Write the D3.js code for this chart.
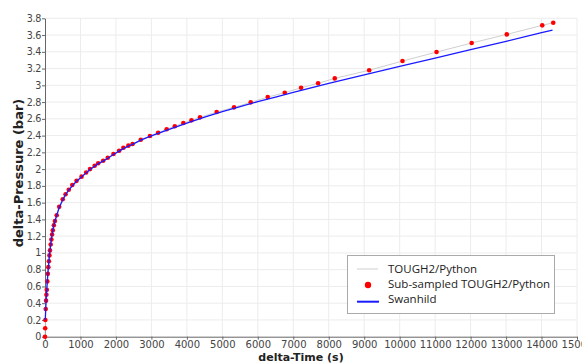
<!DOCTYPE html>
<html><head><meta charset="utf-8">
<script src="https://cdn.jsdelivr.net/npm/d3@7"></script>
<style>body{margin:0;background:#fff}svg{display:block}</style>
</head><body><svg id="c" width="582" height="363"></svg>
<script>
const xTicks = [0,1000,2000,3000,4000,5000,6000,7000,8000,9000,10000,11000,12000,13000,14000,15000];
const yTicks = [0,0.2,0.4,0.6,0.8,1,1.2,1.4,1.6,1.8,2,2.2,2.4,2.6,2.8,3,3.2,3.4,3.6,3.8];
const seriesNames = ["TOUGH2/Python","Sub-sampled TOUGH2/Python","Swanhild"];

const sampledT = [0,5,10,20,30,40,50,65,80,95,110,125,140,160,180,200,220,250,280,330,400,500,580,670,770,890,1030,1160,1270,1400,1500,1640,1770,1930,2090,2210,2350,2470,2700,2960,3190,3430,3660,3900,4130,4370,4840,5330,5800,6280,6760,7220,7700,8170,9140,10080,11040,12030,13020,14020,14330];
const sampledP = [0,0.1,0.2,0.33,0.43,0.5,0.56,0.66,0.75,0.83,0.9,0.97,1.03,1.1,1.16,1.22,1.27,1.33,1.38,1.45,1.55,1.64,1.70,1.754,1.81,1.86,1.91,1.96,2.0,2.04,2.07,2.10,2.136,2.18,2.22,2.255,2.28,2.30,2.35,2.395,2.434,2.475,2.511,2.55,2.582,2.618,2.681,2.737,2.797,2.86,2.912,2.971,3.024,3.083,3.18,3.29,3.397,3.505,3.608,3.716,3.747];

const toughT = sampledT;
const toughP = sampledP;

const swanT = [0,10,20,30,50,65,80,95,110,125,140,160,180,200,220,250,280,330,400,500,580,670,770,890,1030,1160,1270,1400,1500,1640,1770,1930,2090,2210,2350,2470,2700,2960,3500,4000,4500,5000,5500,6000,6500,7000,7500,8000,8500,9000,10000,11000,12000,13000,14000,14310];
const swanP = [0.2,0.22,0.33,0.43,0.56,0.66,0.75,0.83,0.9,0.97,1.03,1.1,1.16,1.22,1.27,1.33,1.38,1.45,1.54,1.635,1.695,1.75,1.80,1.855,1.905,1.955,1.995,2.035,2.065,2.095,2.13,2.175,2.215,2.245,2.275,2.295,2.345,2.39,2.475,2.55,2.62,2.685,2.745,2.805,2.86,2.915,2.97,3.023,3.075,3.125,3.225,3.325,3.425,3.525,3.63,3.66];

const svg = d3.select("#c");
const x = d3.scaleLinear().domain([0,15000]).range([45,577]);
const y = d3.scaleLinear().domain([0,3.8]).range([336.7,18.3]);

// grid
const g = svg.append("g");
g.selectAll("line.h").data(yTicks.slice(1)).enter().append("line")
 .attr("x1",x(0)).attr("x2",x(15000)).attr("y1",d=>y(d)).attr("y2",d=>y(d))
 .attr("stroke","#ececec").attr("stroke-width",1);
g.selectAll("line.v").data(xTicks.slice(1)).enter().append("line")
 .attr("x1",d=>x(d)).attr("x2",d=>x(d)).attr("y1",y(0)).attr("y2",y(3.8))
 .attr("stroke","#ececec").attr("stroke-width",1);

// axes
const xAxis = d3.axisBottom(x).tickValues(xTicks).tickSize(3).tickSizeOuter(0).tickFormat(d3.format("d"));
const yAxis = d3.axisLeft(y).tickValues(yTicks).tickSize(3).tickSizeOuter(0).tickPadding(1).tickFormat(d=>String(d));
const ax = svg.append("g").attr("transform",`translate(0,${y(0)})`).call(xAxis);
const ay = svg.append("g").attr("transform",`translate(${x(0)},0)`).call(yAxis);
[ax,ay].forEach(a=>{
  a.select(".domain").attr("stroke","#666");
  a.selectAll(".tick line").attr("stroke","#666");
  a.selectAll("text").attr("fill","#444").style("font-family","DejaVu Sans").style("font-size","10px");
});
ay.selectAll("text").style("font-size","9.6px").style("letter-spacing","-0.3px");
ax.selectAll("text").attr("dy","0.85em").attr("y",3);

// data
const pts = sampledT.map((t,i)=>[t,sampledP[i]]);
const tough = toughT.map((t,i)=>[t,toughP[i]]);
const swan = swanT.map((t,i)=>[t,swanP[i]]);
const line = d3.line().x(d=>x(d[0])).y(d=>y(d[1]));

svg.append("path").datum(tough).attr("d",line).attr("fill","none").attr("stroke","#cfcfcf").attr("stroke-width",1);
svg.append("g").selectAll("circle").data(pts).enter().append("circle")
 .attr("cx",d=>x(d[0])).attr("cy",d=>y(d[1])).attr("r",2.3).attr("fill","#ff0000");
svg.append("path").datum(swan).attr("d",line).attr("fill","none").attr("stroke","#1a1aff").attr("stroke-width",1.3);

// titles
svg.append("text").attr("x",301).attr("y",361).attr("text-anchor","middle")
 .style("font-family","DejaVu Sans").style("font-weight","bold").style("font-size","11px").attr("fill","#222").text("delta-Time (s)");
svg.append("text").attr("transform","translate(23,173) rotate(-90)").attr("text-anchor","middle")
 .style("font-family","DejaVu Sans").style("font-weight","bold").style("font-size","13px").attr("fill","#222").text("delta-Pressure (bar)");

// legend
const lg = svg.append("g");
lg.append("rect").attr("x",347.5).attr("y",255.5).attr("width",207).attr("height",58).attr("fill","#fff").attr("stroke","#aaa");
const rows = [273.3,287.7,303.3];
lg.append("line").attr("x1",357).attr("x2",378).attr("y1",269).attr("y2",269).attr("stroke","#cfcfcf").attr("stroke-width",1);
lg.append("circle").attr("cx",368).attr("cy",285).attr("r",3.2).attr("fill","#ff0000");
lg.append("line").attr("x1",357).attr("x2",379).attr("y1",301.7).attr("y2",301.7).attr("stroke","#1a1aff").attr("stroke-width",2);
lg.selectAll("text").data(seriesNames).enter().append("text")
 .attr("x",388).attr("y",(d,i)=>rows[i]).text(d=>d)
 .style("font-family","Open Sans").style("font-size","11.5px").attr("fill","#222");
</script></body></html>
